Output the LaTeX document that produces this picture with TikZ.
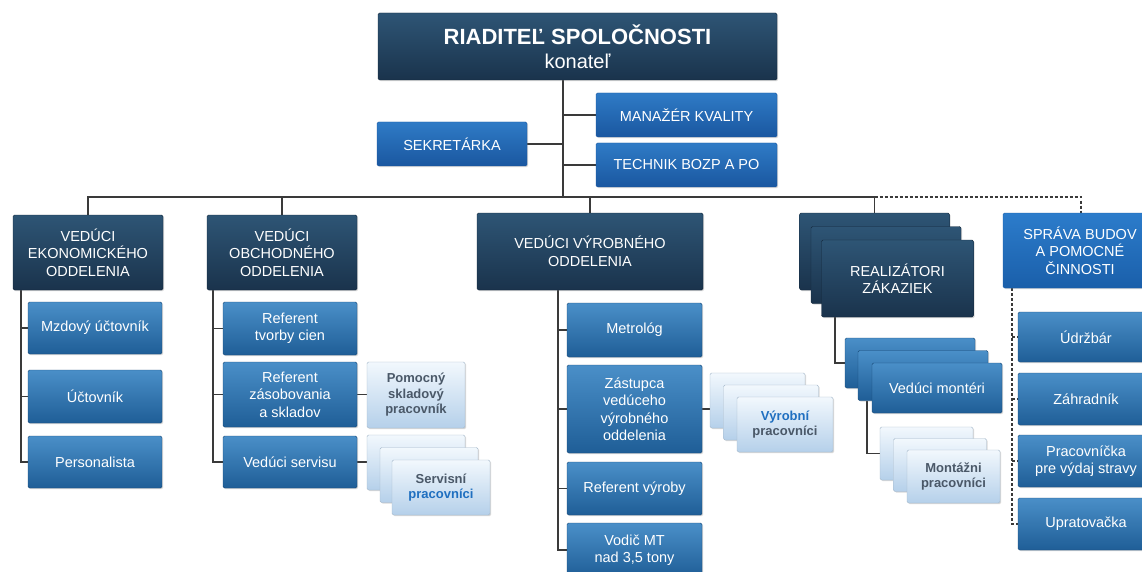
\documentclass[tikz,border=0pt]{standalone}
\usepackage{fontspec}
\setmainfont{Liberation Sans}
\usetikzlibrary{shadows,backgrounds}
\definecolor{navyT}{HTML}{2E5575}
\definecolor{navyB}{HTML}{1A334C}
\definecolor{blueT}{HTML}{4A8FC8}
\definecolor{blueB}{HTML}{1F5E97}
\definecolor{secT}{HTML}{2F7BC6}
\definecolor{secB}{HTML}{1A57A0}
\definecolor{sprT}{HTML}{2C7CCB}
\definecolor{sprB}{HTML}{1A5FAA}
\definecolor{lightT}{HTML}{F2F8FD}
\definecolor{lightB}{HTML}{B5D0EA}
\definecolor{lineC}{HTML}{3A3A3A}
\definecolor{txtGray}{HTML}{4A5868}
\definecolor{txtBlue}{HTML}{1F6FC0}
\tikzset{
  box/.style={rectangle, rounded corners=1.5pt, align=center, inner sep=2pt,
    font=\fontsize{14.5}{17.5}\selectfont, text=white,
    drop shadow={shadow xshift=1.2pt, shadow yshift=-1.2pt, opacity=0.3}},
  headbox/.style={box, top color=navyT, bottom color=navyB, draw=navyB!80!black},
  childbox/.style={box, top color=blueT, bottom color=blueB, draw=blueB!80!black},
  secbox/.style={box, top color=secT, bottom color=secB, draw=secB},
  sprbox/.style={box, top color=sprT, bottom color=sprB, draw=sprB},
  lightbox/.style={box, top color=lightT, bottom color=lightB, draw=lightB!70!gray,
    text=txtGray, font=\fontsize{13}{15.5}\selectfont\bfseries},
  conn/.style={draw=lineC, line width=1.1pt},
  dconn/.style={conn, dash pattern=on 3pt off 2pt},
}
\begin{document}
\begin{tikzpicture}[x=1pt, y=-1pt]
\useasboundingbox (0,0) rectangle (1142,572);

% top
\node[headbox, minimum width=399pt, minimum height=67pt] (dir) at (577.5,46.5)
  {{\fontsize{22}{26}\selectfont\bfseries RIADITEĽ SPOLOČNOSTI}\\[7pt]{\fontsize{20}{24}\selectfont konateľ}};
\node[secbox, minimum width=181pt, minimum height=44pt] (mk) at (686.5,115) {MANAŽÉR KVALITY};
\node[secbox, minimum width=181pt, minimum height=44pt] (tb) at (686.5,165) {TECHNIK BOZP A PO};
\node[secbox, minimum width=150pt, minimum height=44pt] (sek) at (452,144) {SEKRETÁRKA};

% economic
\node[headbox, minimum width=150pt, minimum height=75pt] (eko) at (88,252.5) {VEDÚCI\\EKONOMICKÉHO\\ODDELENIA};
\node[childbox, minimum width=134pt, minimum height=52pt] (mzd) at (95,328) {Mzdový účtovník};
\node[childbox, minimum width=134pt, minimum height=53pt] (uct) at (95,396.5) {Účtovník};
\node[childbox, minimum width=134pt, minimum height=52pt] (pers) at (95,462) {Personalista};

% business
\node[headbox, minimum width=150pt, minimum height=75pt] (obch) at (282,252.5) {VEDÚCI\\OBCHODNÉHO\\ODDELENIA};
\node[childbox, minimum width=134pt, minimum height=53pt] (rtc) at (290,328.5) {Referent\\tvorby cien};
\node[childbox, minimum width=134pt, minimum height=65pt] (rzs) at (290,394.5) {Referent\\zásobovania\\a skladov};
\node[childbox, minimum width=134pt, minimum height=52pt] (vs) at (290,462) {Vedúci servisu};
\node[lightbox, minimum width=98pt, minimum height=66pt] (pom) at (416,395) {Pomocný\\skladový\\pracovník};
\node[lightbox, minimum width=98pt, minimum height=55pt] (sp1) at (416,462.5) {};
\node[lightbox, minimum width=98pt, minimum height=55pt] (sp2) at (429,475) {};
\node[lightbox, minimum width=98pt, minimum height=55pt] (sp3) at (441,487.5) {Servisní\\{\color{txtBlue}pracovníci}};

% production
\node[headbox, minimum width=226pt, minimum height=77pt] (vyr) at (590,251.5) {VEDÚCI VÝROBNÉHO\\ODDELENIA};
\node[childbox, minimum width=135pt, minimum height=54pt] (met) at (634.5,330) {Metrológ};
\node[childbox, minimum width=135pt, minimum height=88pt] (zast) at (634.5,409) {Zástupca\\vedúceho\\výrobného\\oddelenia};
\node[childbox, minimum width=135pt, minimum height=53pt] (ref) at (634.5,488.5) {Referent výroby};
\node[childbox, minimum width=135pt, minimum height=54pt] (vod) at (634.5,550) {Vodič MT\\nad 3,5 tony};
\node[lightbox, minimum width=95pt, minimum height=55pt] (vp1) at (757.5,400.5) {};
\node[lightbox, minimum width=95pt, minimum height=55pt] (vp2) at (771,412.5) {};
\node[lightbox, minimum width=96pt, minimum height=55pt] (vp3) at (785,424.5) {{\color{txtBlue}Výrobní}\\pracovníci};

% realizers
\node[headbox, minimum width=150pt, minimum height=77pt] (real1) at (874.5,251.5) {};
\node[headbox, minimum width=150pt, minimum height=77pt] (real2) at (886,265) {};
\node[headbox, minimum width=152pt, minimum height=77pt] (real3) at (897.5,278.5) {REALIZÁTORI\\ZÁKAZIEK};
\node[childbox, minimum width=130pt, minimum height=50pt] (mont1) at (910,363) {};
\node[childbox, minimum width=130pt, minimum height=50pt] (mont2) at (923,375.5) {};
\node[childbox, minimum width=130pt, minimum height=50pt] (mont3) at (937,388) {Vedúci montéri};
\node[lightbox, minimum width=93pt, minimum height=53pt] (mp1) at (926.5,453.5) {};
\node[lightbox, minimum width=93pt, minimum height=53pt] (mp2) at (940,465) {};
\node[lightbox, minimum width=93pt, minimum height=53pt] (mp3) at (953.5,476.5) {Montážni\\pracovníci};

% building management
\node[sprbox, minimum width=154pt, minimum height=75pt] (sb) at (1080,250.5) {SPRÁVA BUDOV\\A POMOCNÉ\\ČINNOSTI};
\node[childbox, minimum width=136pt, minimum height=50pt] (udr) at (1086,337) {Údržbár};
\node[childbox, minimum width=136pt, minimum height=52pt] (zah) at (1086,399) {Záhradník};
\node[childbox, minimum width=136pt, minimum height=52pt] (prac) at (1086,461) {Pracovníčka\\pre výdaj stravy};
\node[childbox, minimum width=136pt, minimum height=52pt] (upr) at (1086,524) {Upratovačka};

\begin{scope}[on background layer]
  \fill[white] (0,0) rectangle (1142,572);
  \coordinate (bus) at (0,197);
  \coordinate (trunk) at (563,0);
  \draw[conn] (dir.south -| trunk) -- (trunk |- bus);
  \draw[conn] (sek.east) -- (sek.east -| trunk);
  \draw[conn] (mk.west -| trunk) -- (mk.west);
  \draw[conn] (tb.west -| trunk) -- (tb.west);
  \draw[conn] (eko.north) -- (eko.north |- bus) -- (real1.north |- bus) -- (real1.north);
  \draw[conn] (obch.north) -- (obch.north |- bus);
  \draw[conn] (vyr.north) -- (vyr.north |- bus);
  \coordinate (sbx) at (1081,0);
  \draw[dconn] (real1.north |- bus) -- (sbx |- bus) -- (sbx |- sb.north);

  \coordinate (ekoL) at (21,0);
  \draw[conn] (ekoL |- eko.south) -- (ekoL |- pers.west) -- (pers.west);
  \draw[conn] (ekoL |- mzd.west) -- (mzd.west);
  \draw[conn] (ekoL |- uct.west) -- (uct.west);

  \coordinate (obL) at (213,0);
  \draw[conn] (obL |- obch.south) -- (obL |- vs.west) -- (vs.west);
  \draw[conn] (obL |- rtc.west) -- (rtc.west);
  \draw[conn] (obL |- rzs.west) -- (rzs.west);
  \draw[conn] (rzs.east) -- (rzs.east -| pom.west);
  \draw[conn] (vs.east) -- (vs.east -| sp1.west);

  \coordinate (vyL) at (558,0);
  \draw[conn] (vyL |- vyr.south) -- (vyL |- vod.west) -- (vod.west);
  \draw[conn] (vyL |- met.west) -- (met.west);
  \draw[conn] (vyL |- zast.west) -- (zast.west);
  \draw[conn] (vyL |- ref.west) -- (ref.west);
  \draw[conn] (zast.east) -- (zast.east -| vp1.west);

  \coordinate (reL) at (835,0);
  \draw[conn] (reL |- real3.south) -- (reL |- mont1.west) -- (mont1.west);
  \coordinate (moL) at (867,0);
  \draw[conn] (moL |- mont2.south) -- (moL |- mp1.west) -- (mp1.west);

  \coordinate (sbL) at (1012,0);
  \draw[dconn] (sbL |- sb.south) -- (sbL |- upr.west) -- (upr.west);
  \draw[dconn] (sbL |- udr.west) -- (udr.west);
  \draw[dconn] (sbL |- zah.west) -- (zah.west);
  \draw[dconn] (sbL |- prac.west) -- (prac.west);
\end{scope}
\end{tikzpicture}
\end{document}
